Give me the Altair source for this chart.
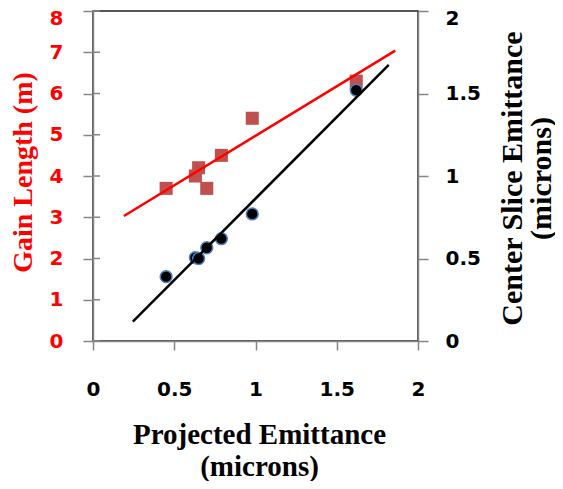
import altair as alt
import pandas as pd

# Projected emittance (x) for both series
proj_emit = [0.45, 0.63, 0.65, 0.70, 0.79, 0.98, 1.62]
# Gain length (m), left axis
gain_length = [3.7, 4.0, 4.2, 3.7, 4.5, 5.4, 6.3]
# Center slice emittance (microns), right axis
slice_emit = [0.39, 0.505, 0.50, 0.565, 0.62, 0.77, 1.52]

# Linear fit lines (end points)
gain_fit_x = [0.19, 1.86]
gain_fit_y = [3.03, 7.04]
slice_fit_x = [0.245, 1.82]
slice_fit_y = [0.117, 1.673]

x_ticks = [0, 0.5, 1, 1.5, 2]
left_ticks = [0, 1, 2, 3, 4, 5, 6, 7, 8]
right_ticks = [0, 0.5, 1, 1.5, 2]

gain_df = pd.DataFrame({"x": proj_emit, "y": gain_length})
slice_df = pd.DataFrame({"x": proj_emit, "y": slice_emit})
gain_fit_df = pd.DataFrame({"x": gain_fit_x, "y": gain_fit_y})
slice_fit_df = pd.DataFrame({"x": slice_fit_x, "y": slice_fit_y})
left_tick_df = pd.DataFrame({"y": left_ticks})

TICK_FONT = "DejaVu Sans"
TITLE_FONT = "Liberation Serif"
AXIS_GRAY = "#868686"

x_enc = alt.X(
    "x:Q",
    scale=alt.Scale(domain=[0, 2], nice=False, zero=False),
    axis=alt.Axis(
        values=x_ticks, format="~g",
        labelFont=TICK_FONT, labelFontWeight="bold", labelFontSize=20, labelColor="black",
        labelPadding=29, tickSize=9, tickColor=AXIS_GRAY, tickWidth=1.5,
        domainColor=AXIS_GRAY, domainWidth=1.5, grid=False, labelFlush=False,
        title=["Projected Emittance", "(microns)"],
        titleFont=TITLE_FONT, titleFontSize=29, titleFontWeight="bold", titleColor="black",
        titleLineHeight=32, titleBaseline="alphabetic", titleAlign="center",
        titleX=166, titleY=102, titleAngle=0,
    ),
)

left_axis = alt.Axis(
    values=left_ticks, format="~g", orient="left",
    labelFont=TICK_FONT, labelFontWeight="bold", labelFontSize=20, labelColor="#FF0000",
    labelPadding=20, tickSize=10, tickColor=AXIS_GRAY, tickWidth=1.5,
    labelOffset={"condition": {"test": "datum.value === 8", "value": 7}, "value": 0},
    domainColor=AXIS_GRAY, domainWidth=1.5, grid=False, labelFlush=False,
    title="Gain Length (m)",
    titleFont=TITLE_FONT, titleFontSize=28, titleFontWeight="bold", titleColor="#FF0000",
    titleBaseline="alphabetic", titleAlign="center", titleAngle=270,
    titleX=-62, titleY=161,
)

right_axis = alt.Axis(
    values=right_ticks, format="~g", orient="right",
    labelFont=TICK_FONT, labelFontWeight="bold", labelFontSize=20, labelColor="black",
    labelPadding=17, tickSize=10, tickColor=AXIS_GRAY, tickWidth=1.5,
    labelOffset={"condition": {"test": "datum.value === 2", "value": 7}, "value": 0},
    domainColor=AXIS_GRAY, domainWidth=1.5, grid=False, labelFlush=False,
    title=["Center Slice Emittance", "(microns)"],
    titleFont=TITLE_FONT, titleFontSize=30, titleFontWeight="bold", titleColor="black",
    titleLineHeight=29, titleBaseline="alphabetic", titleAlign="center", titleAngle=270,
    titleX=103, titleY=167,
)

left_y = alt.Y("y:Q", scale=alt.Scale(domain=[0, 8], nice=False), axis=left_axis)
right_y = alt.Y("y:Q", scale=alt.Scale(domain=[0, 2], nice=False), axis=right_axis)

# inner half of the crossing ticks on the left axis
left_inner_ticks = alt.Chart(left_tick_df).mark_rule(color=AXIS_GRAY, strokeWidth=1.5).encode(
    y=left_y, x=alt.value(0), x2=alt.value(7)
)
gain_line = alt.Chart(gain_fit_df).mark_line(color="#FF0000", strokeWidth=2.5).encode(x=x_enc, y=left_y)
gain_pts = alt.Chart(gain_df).mark_square(color="#C0504D", size=170, opacity=1).encode(x=x_enc, y=left_y)
left_layer = alt.layer(left_inner_ticks, gain_pts, gain_line)

slice_line = alt.Chart(slice_fit_df).mark_line(color="black", strokeWidth=2.5).encode(x=x_enc, y=right_y)
slice_pts = alt.Chart(slice_df).mark_circle(
    color="black", size=140, opacity=1, stroke="#4F81BD", strokeWidth=1.5
).encode(x=x_enc, y=right_y)
right_layer = alt.layer(slice_pts, slice_line)

chart = (
    alt.layer(left_layer, right_layer)
    .resolve_scale(y="independent")
    .properties(
        width=325,
        height=330,
        autosize=alt.AutoSizeParams(type="none"),
        padding={"left": 85, "top": 3, "right": 137, "bottom": 140},
        background="white",
    )
    .configure_view(stroke="#222222", strokeWidth=1.5)
)

chart.save("out.html", embed_options={"renderer": "svg", "actions": False})
